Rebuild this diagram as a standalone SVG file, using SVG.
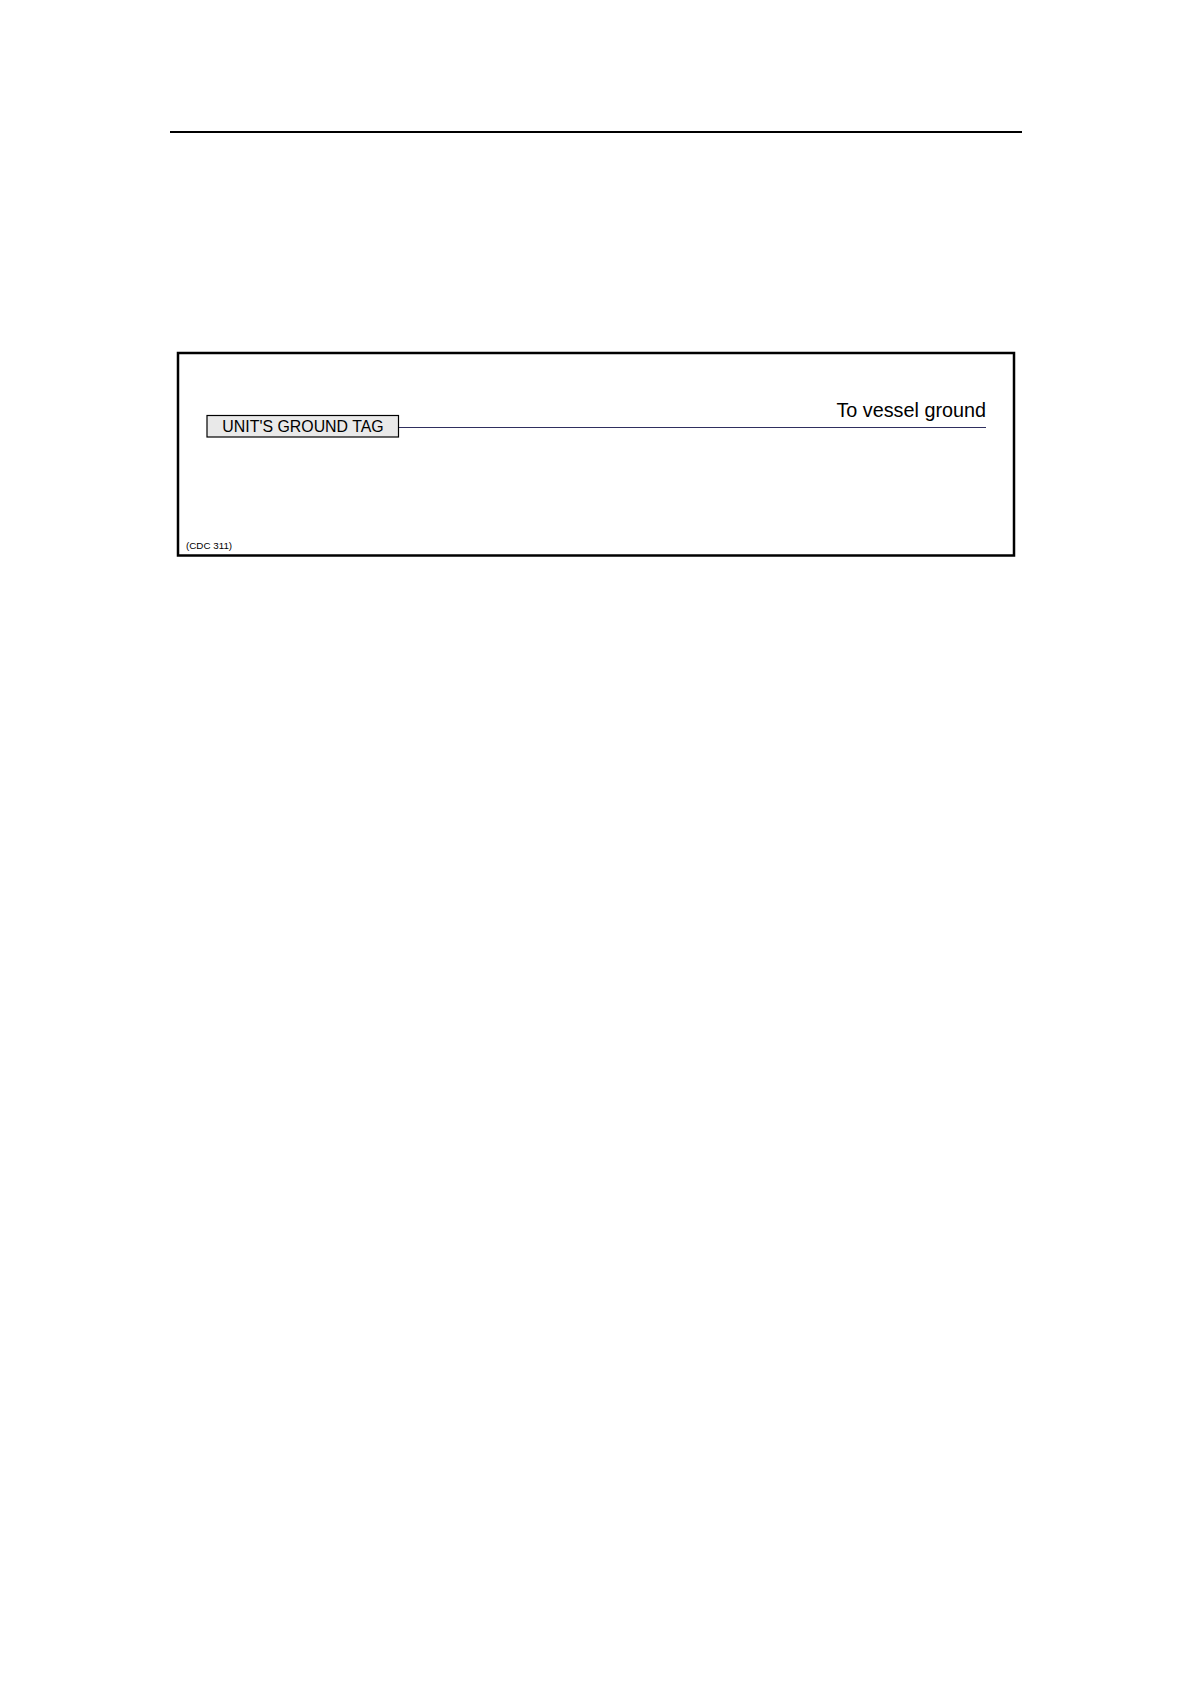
<svg xmlns="http://www.w3.org/2000/svg" width="1191" height="1684" viewBox="0 0 1191 1684">
<style>
.t{font-family:"Liberation Sans",Arial,sans-serif;fill:#000}
</style>
<rect width="1191" height="1684" fill="#fff"/>
<line x1="170" y1="132" x2="1022" y2="132" stroke="#000" stroke-width="2.2"/>
<g id="frame">
<rect x="178" y="353" width="836" height="202.5" fill="none" stroke="#000" stroke-width="2.5"/>
</g>
<g id="connectors">
<line x1="398.5" y1="427.5" x2="986" y2="427.5" stroke="#2f2f5f" stroke-width="1.2"/>
</g>
<g id="tag">
<rect x="207" y="415.5" width="191.5" height="21.5" fill="#e9e9e9" stroke="#000" stroke-width="1.2"/>
<text class="t" x="303" y="431.7" font-size="15.9" text-anchor="middle">UNIT'S GROUND TAG</text>
</g>
<g id="vessel">
<text class="t" x="986" y="416.7" font-size="19.8" text-anchor="end">To vessel ground</text>
</g>
<g id="ref">
<text class="t" x="186" y="549.3" font-size="9.8">(CDC 311)</text>
</g>
</svg>
